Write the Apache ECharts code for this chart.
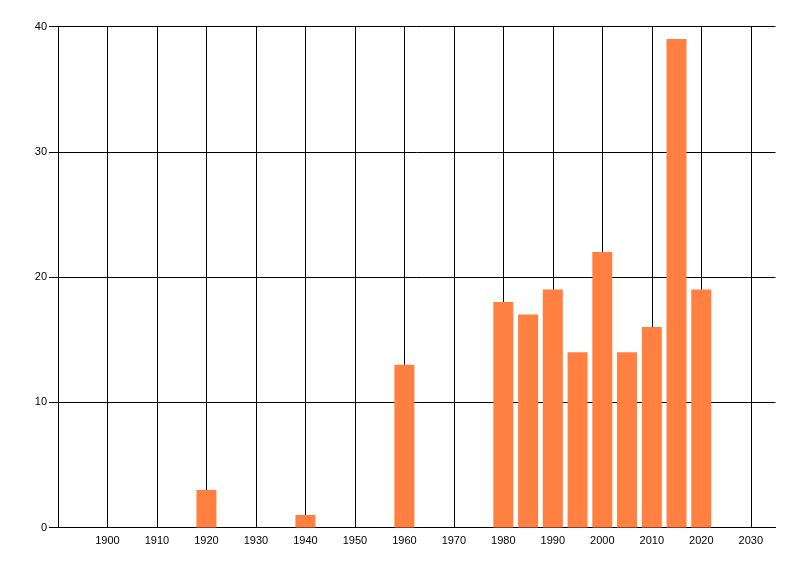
<!DOCTYPE html>
<html><head><meta charset="utf-8">
<script src="https://cdn.jsdelivr.net/npm/echarts@6/dist/echarts.min.js"></script>
<style>html,body{margin:0;padding:0;background:#fff}#c{width:800px;height:576px}</style>
</head><body><div id="c"></div>
<script>
const years = [1920, 1940, 1960, 1980, 1985, 1990, 1995, 2000, 2005, 2010, 2015, 2020];
const counts = [3, 1, 13, 18, 17, 19, 14, 22, 14, 16, 39, 19];
const yTicks = [0, 10, 20, 30, 40];

const chart = echarts.init(document.getElementById('c'), null, {renderer: 'canvas'});
chart.setOption({
  animation: false,
  backgroundColor: '#fff',
  grid: {left: 58, right: 24.5, top: 26.5, bottom: 48.5, containLabel: false},
  xAxis: {
    type: 'value', min: 1890, max: 2035, interval: 10,
    axisLine: {show: true, onZero: false, lineStyle: {color: '#000', width: 1}},
    axisTick: {show: false},
    splitLine: {show: true, showMaxLine: false, lineStyle: {color: '#000', width: 1}},
    axisLabel: {
      color: '#000', fontFamily: 'Liberation Sans, Arial, sans-serif', fontSize: 11, margin: 8,
      showMinLabel: false, showMaxLabel: false,
      formatter: v => (v === 1890 || v === 2035) ? '' : String(v)
    }
  },
  yAxis: {
    type: 'value', min: yTicks[0], max: yTicks[yTicks.length - 1], interval: 10,
    axisLine: {show: true, lineStyle: {color: '#000', width: 1}},
    axisTick: {show: true, inside: false, length: 9, lineStyle: {color: '#000', width: 1}},
    splitLine: {show: true, lineStyle: {color: '#000', width: 1}},
    axisLabel: {color: '#000', fontFamily: 'Liberation Sans, Arial, sans-serif', fontSize: 11, margin: 11}
  },
  series: [{
    type: 'bar',
    barWidth: 20,
    itemStyle: {color: '#FF8040'},
    data: years.map((y, i) => [y, counts[i]])
  }]
});
</script></body></html>
